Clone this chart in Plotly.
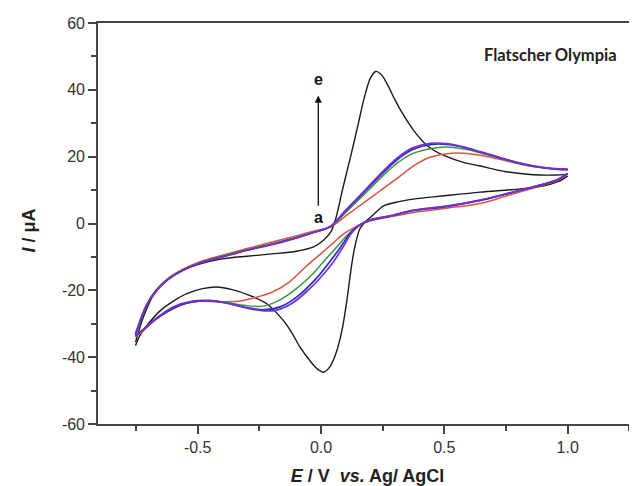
import plotly.graph_objects as go

# ---------------- data ----------------
black_fwd_v = [-0.752, -0.72, -0.68, -0.625, -0.56, -0.5, -0.4, -0.3, -0.2, -0.1, -0.03, 0.01, 0.04, 0.06,
               0.09, 0.12, 0.15, 0.175, 0.2, 0.222, 0.245, 0.27, 0.3, 0.33, 0.374, 0.42, 0.455, 0.5,
               0.577, 0.645, 0.75, 0.86, 0.95, 1.0]
black_fwd_i = [-35.5, -28, -21.5, -17, -14, -12.3, -10.6, -9.8, -9.1, -8.3, -7, -5, -2.5, 1.5,
               11, 20, 29.5, 37.5, 43.5, 45.5, 44.5, 41.5, 37, 33, 28, 24, 22, 20.3,
               18.3, 17.2, 15.5, 14.6, 14.5, 14.7]
black_rev_v = [1.0, 0.96, 0.9, 0.8, 0.645, 0.5, 0.374, 0.3, 0.252, 0.212, 0.18, 0.158, 0.14, 0.125,
               0.104, 0.085, 0.06, 0.035, 0.01, -0.015, -0.04, -0.085, -0.12, -0.153, -0.22, -0.29,
               -0.36, -0.423, -0.48, -0.544, -0.6, -0.65, -0.7, -0.734, -0.752]
black_rev_i = [14.2, 12.5, 11.2, 10.3, 9.4, 8.3, 7.3, 6.3, 5.2, 2.6, 0.5, -1.5, -6, -12,
               -23.5, -32, -39, -43, -44.5, -43.5, -41.5, -37, -32.5, -29, -24, -21.5,
               -19.8, -19, -19.5, -21, -23.3, -26, -30, -33.5, -36.5]

fwd_v = [-0.752, -0.73, -0.707, -0.67, -0.625, -0.56, -0.49, -0.4, -0.3, -0.186, -0.1, -0.03, 0.04,
         0.1, 0.17, 0.24, 0.307, 0.374, 0.442, 0.51, 0.58, 0.645, 0.72, 0.8, 0.88, 0.95, 1.0]
red_fwd_i = [-33.5, -28.3, -24.2, -20, -16.7, -13.7, -11.4, -9.5, -7.5, -5.3, -3.7, -2.3, -1.0,
             2.3, 6.0, 9.8, 13.4, 17.2, 19.8, 20.9, 21.0, 20.4, 19.3, 17.9, 16.8, 16.2, 16.0]
green_fwd_i = [-33.3, -28.5, -24.4, -20.2, -16.9, -13.9, -11.7, -9.8, -7.8, -5.8, -4.1, -2.6, -0.9,
               3.3, 8.3, 13.5, 18.0, 21.0, 22.4, 22.9, 22.3, 21.2, 19.6, 18.0, 16.9, 16.3, 16.1]
blue_fwd_i = [-33.2, -28.6, -24.5, -20.3, -17, -14, -11.8, -10, -8, -6.0, -4.3, -2.7, -0.8,
              3.8, 9.0, 14.3, 19.0, 22.2, 23.6, 23.7, 22.8, 21.4, 19.8, 18.1, 16.9, 16.3, 16.2]
purple_fwd_i = [-33, -28.5, -24.5, -20.3, -17, -14, -11.8, -10, -8, -6.1, -4.3, -2.7, -0.8,
                4.0, 9.3, 14.8, 19.5, 22.7, 24.0, 23.9, 22.9, 21.5, 19.9, 18.2, 17.0, 16.4, 16.3]

red_rev_v = [1.0, 0.95, 0.87, 0.75, 0.645, 0.5, 0.374, 0.28, 0.2, 0.14, 0.09, 0.05, 0.0, -0.06,
             -0.13, -0.2, -0.27, -0.34, -0.42, -0.5, -0.57, -0.62, -0.67, -0.72, -0.752]
red_rev_i = [14.8, 12.6, 10.8, 8.2, 6.0, 4.5, 3.3, 2.0, 0.8, -1.0, -3.2, -5.8, -9.0, -12.8,
             -17.6, -20.6, -22.2, -23.3, -23.4, -23.3, -24.5, -26.3, -28.8, -32, -34]
green_rev_v = [1.0, 0.95, 0.87, 0.75, 0.645, 0.5, 0.374, 0.28, 0.2, 0.15, 0.11, 0.07, 0.03, -0.03,
               -0.1, -0.17, -0.24, -0.31, -0.38, -0.46, -0.55, -0.62, -0.67, -0.72, -0.752]
green_rev_i = [14.9, 12.8, 11.1, 8.8, 6.9, 5.0, 3.9, 2.2, 1.0, -0.8, -3.2, -6.5, -9.8, -14.8,
               -19.5, -23.0, -24.8, -24.5, -23.7, -23.1, -23.9, -26.3, -28.7, -31.8, -33.7]
blue_rev_v = [1.0, 0.95, 0.87, 0.75, 0.645, 0.5, 0.374, 0.28, 0.2, 0.15, 0.115, 0.08, 0.04, -0.02,
              -0.09, -0.16, -0.23, -0.3, -0.37, -0.45, -0.55, -0.62, -0.67, -0.72, -0.752]
blue_rev_i = [14.9, 12.8, 11.1, 8.8, 6.9, 5.0, 3.9, 2.2, 1.0, -0.7, -3.2, -7.0, -11.0, -16.5,
              -21.5, -24.8, -25.8, -25.2, -24.0, -23.1, -23.9, -26.2, -28.6, -31.8, -33.6]
purple_rev_v = [1.0, 0.95, 0.87, 0.75, 0.645, 0.5, 0.374, 0.28, 0.2, 0.155, 0.12, 0.09, 0.05, 0.0,
                -0.06, -0.12, -0.18, -0.24, -0.3, -0.36, -0.44, -0.52, -0.6, -0.67, -0.72, -0.752]
purple_rev_i = [15, 12.9, 11.2, 8.9, 7.0, 5.1, 4.0, 2.3, 1.1, -0.6, -3.2, -7.0, -11.5, -16.0,
                -20.5, -24.0, -25.9, -26.1, -25.3, -24.2, -23.1, -23.2, -25.0, -28.5, -31.7, -33.5]

x_tick_vals = [-0.5, 0.0, 0.5, 1.0]
x_tick_text = ["-0.5", "0.0", "0.5", "1.0"]
x_minor_vals = [-0.75, -0.25, 0.25, 0.75, 1.25]
y_tick_vals = [-60, -40, -20, 0, 20, 40, 60]
y_tick_text = ["-60", "-40", "-20", "0", "20", "40", "60"]
y_minor_vals = [-50, -30, -10, 10, 30, 50]

series = [
    ("black", "#1a1a1a", 1.4, black_fwd_v, black_fwd_i, black_rev_v, black_rev_i),
    ("red", "#e0523f", 1.5, fwd_v, red_fwd_i, red_rev_v, red_rev_i),
    ("green", "#3d9445", 1.5, fwd_v, green_fwd_i, green_rev_v, green_rev_i),
    ("blue", "#2a2ad0", 1.7, fwd_v, blue_fwd_i, blue_rev_v, blue_rev_i),
    ("purple", "#7a30c4", 1.7, fwd_v, purple_fwd_i, purple_rev_v, purple_rev_i),
]

fig = go.Figure()
for name, color, lw, fv, fi, rv, ri in series:
    for xs, ys in ((fv, fi), (rv, ri)):
        fig.add_trace(go.Scatter(x=xs, y=ys, mode="lines", name=name, showlegend=False,
                                 line=dict(color=color, width=lw, shape="spline", smoothing=0.8),
                                 hoverinfo="skip"))

axis_font = dict(family="Liberation Sans, Arial, sans-serif", size=16, color="#333333")
line_col = "#444444"

fig.update_xaxes(range=[-0.904, 1.281], showline=True, linecolor=line_col, linewidth=1.6, mirror=True,
                 showgrid=False, zeroline=False, ticks="outside", ticklen=8, tickwidth=1.5,
                 tickcolor=line_col, tickvals=x_tick_vals, ticktext=x_tick_text, tickfont=axis_font,
                 minor=dict(tickvals=x_minor_vals, ticks="outside", ticklen=5, tickwidth=1.5,
                            tickcolor=line_col, showgrid=False),
                 title=dict(text="<b><i>E</i> / V  <i>vs.</i> Ag/ AgCl</b>",
                            font=dict(family="Liberation Sans, Arial, sans-serif", size=18, color="#222"),
                            standoff=14))
fig.update_yaxes(range=[-60, 60], showline=True, linecolor=line_col, linewidth=1.6, mirror=False,
                 showgrid=False, zeroline=False, ticks="outside", ticklen=8, tickwidth=1.5,
                 tickcolor=line_col, tickvals=y_tick_vals, ticktext=y_tick_text, tickfont=axis_font,
                 minor=dict(tickvals=y_minor_vals, ticks="outside", ticklen=5, tickwidth=1.5,
                            tickcolor=line_col, showgrid=False))

fig.add_annotation(x=0, y=0.5, xref="paper", yref="paper", xanchor="center", yanchor="middle",
                   xshift=-70, yshift=-7, textangle=-90, text="<b><i>I</i> / μA</b>", showarrow=False,
                   font=dict(family="Liberation Sans, Arial, sans-serif", size=18, color="#222"))
fig.add_annotation(x=-0.011, y=38.3, ax=-0.011, ay=4.9, xref="x", yref="y", axref="x", ayref="y",
                   text="", showarrow=True, arrowhead=2, arrowsize=1.1, arrowwidth=1.3,
                   arrowcolor="#111111", standoff=0, startstandoff=0)
fig.add_annotation(x=-0.011, y=1.9, xref="x", yref="y", text="<b>a</b>", showarrow=False,
                   font=dict(family="Liberation Sans, Arial, sans-serif", size=16, color="#111"))
fig.add_annotation(x=-0.011, y=43.1, xref="x", yref="y", text="<b>e</b>", showarrow=False,
                   font=dict(family="Liberation Sans, Arial, sans-serif", size=16, color="#111"))
fig.add_annotation(x=0.93, y=50.5, xref="x", yref="y", text="<b>Flatscher Olympia</b>", showarrow=False,
                   font=dict(family="Lato, Liberation Sans, sans-serif", size=16.5, color="#222"))

fig.update_layout(width=629, height=478, margin=dict(l=90, r=0, t=15, b=62),
                  plot_bgcolor="white", paper_bgcolor="white", showlegend=False)

fig.write_html("out.html")
